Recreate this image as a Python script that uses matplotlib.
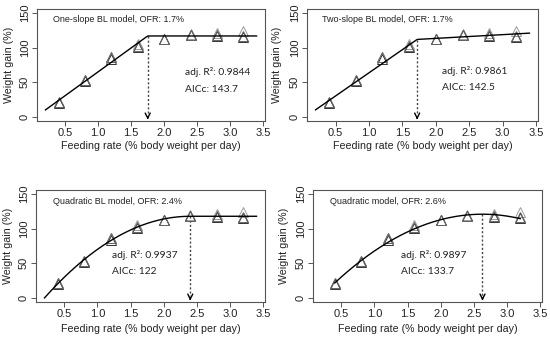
import numpy as np
import matplotlib
matplotlib.use("Agg")
from matplotlib import pyplot as plt

# feeding rate levels and three replicate tanks (weight gain, %)
feed = [0.4, 0.8, 1.2, 1.6, 2.0, 2.4, 2.8, 3.2]
rep_a = [20, 52, 84, 101, 112, 118, 117, 116]
rep_b = [21, 53, 86, 103, 113, 119, 119, 117]
rep_c = [22, 54, 87, 106, 112, 120, 122, 124]

titles = ["One-slope BL model, OFR: 1.7%", "Two-slope BL model, OFR: 1.7%",
          "Quadratic BL model, OFR: 2.4%", "Quadratic model, OFR: 2.6%"]
adj_r2 = ["0.9844", "0.9861", "0.9937", "0.9897"]
aicc = ["143.7", "142.5", "122", "133.7"]

# fitted model parameters
ofr = [1.75, 1.72, 2.4, 2.63]
one_slope = dict(slope=69.0, plateau=117.0)
two_slope = dict(slope1=67.0, ybreak=112.0, slope2=5.4)
quad_bl = dict(a=24.4, plateau=118.0)
quad = dict(a=20.0, ymax=121.0)

W, H = 550, 338
fig = plt.figure(figsize=(W / 100, H / 100), dpi=100)

tick_font = "Liberation Sans"
note_font = "Lato"

# axes boxes in pixels: left, right, top, bottom
boxes = [(37, 265, 9, 121), (307, 538, 9, 121),
         (36, 265, 190, 302), (313, 542, 190, 302)]
ylab_x = [9, 277, 8, 284]
xlab_y = [146, 146, 329, 329]
title_pos = [(53, 20), (322, 20), (53, 201), (330, 201)]
note_pos = [(185, 72), (442, 71), (112, 255), (401, 255)]


def curve(i):
    if i == 0:
        x = np.linspace(0.2, 3.4, 200)
        y = np.minimum(one_slope["plateau"] - one_slope["slope"] * (ofr[0] - x), one_slope["plateau"])
    elif i == 1:
        x = np.linspace(0.2, 3.4, 200)
        y = np.where(x < ofr[1],
                     two_slope["ybreak"] - two_slope["slope1"] * (ofr[1] - x),
                     two_slope["ybreak"] + two_slope["slope2"] * (x - ofr[1]))
    elif i == 2:
        x = np.linspace(0.2, 3.4, 200)
        y = np.where(x < ofr[2], quad_bl["plateau"] - quad_bl["a"] * (x - ofr[2]) ** 2, quad_bl["plateau"])
    else:
        x = np.linspace(0.4, 3.2, 200)
        y = quad["ymax"] - quad["a"] * (x - ofr[3]) ** 2
    return x, y


for i in range(4):
    l, r, t, b = boxes[i]
    ax = fig.add_axes([l / W, 1 - b / H, (r - l) / W, (b - t) / H])
    ax.set_xlim(0.072, 3.528)
    ax.set_ylim(-6, 156)

    x, y = curve(i)
    ax.plot(x, y, color="k", lw=1.0, zorder=3)

    ax.plot(feed, rep_c, "^", ms=6.5, mfc="none", mec="#9a9a9a", mew=0.7, zorder=2)
    ax.plot(feed, rep_a, "^", ms=6.5, mfc="none", mec="#333333", mew=0.7, zorder=2)
    ax.plot(feed, rep_b, "^", ms=6.5, mfc="none", mec="#666666", mew=0.7, zorder=2)

    # dotted drop line with arrow at the optimum
    xo = ofr[i]
    yo = float(np.interp(xo, x, y))
    ax.plot([xo, xo], [yo, 2], color="#444444", lw=1, ls=(0, (1.5, 1.5)), zorder=1)
    ax.annotate("", xy=(xo, -4), xytext=(xo, 4),
                arrowprops=dict(arrowstyle="->", lw=1, color="k", mutation_scale=9))

    ax.set_xticks([0.5, 1.0, 1.5, 2.0, 2.5, 3.0, 3.5])
    ax.set_xticklabels(["0.5", "1.0", "1.5", "2.0", "2.5", "3.0", "3.5"],
                       fontname=tick_font, fontsize=8, color="#222222")
    ax.set_yticks([0, 50, 100, 150])
    ax.set_yticklabels(["0", "50", "100", "150"], rotation=90, va="center",
                       fontname=tick_font, fontsize=8, color="#222222")
    ax.tick_params(length=3.5, width=0.7, color="#555555", pad=1.5)
    for s in ax.spines.values():
        s.set_color("#555555")
        s.set_linewidth(0.8)

    fig.text(((l + r) / 2) / W, 1 - xlab_y[i] / H, "Feeding rate (% body weight per day)",
             ha="center", va="center", fontname=tick_font, fontsize=7.7, color="#222222")
    fig.text(ylab_x[i] / W, 1 - ((t + b) / 2) / H, "Weight gain (%)", rotation=90,
             ha="center", va="center", fontname=tick_font, fontsize=7.7, color="#222222")

    tx, ty = title_pos[i]
    fig.text(tx / W, 1 - ty / H, titles[i], ha="left", va="center",
             fontname=tick_font, fontsize=6.5, color="#222222")

    nx, ny = note_pos[i]
    fig.text(nx / W, 1 - ny / H, "adj. R\u00b2: " + adj_r2[i], ha="left", va="center",
             fontname=note_font, fontsize=7.4, color="#222222")
    fig.text(nx / W, 1 - (ny + 17) / H, "AICc: " + aicc[i], ha="left", va="center",
             fontname=note_font, fontsize=7.4, color="#222222")

fig.savefig("out.png", dpi=100)
